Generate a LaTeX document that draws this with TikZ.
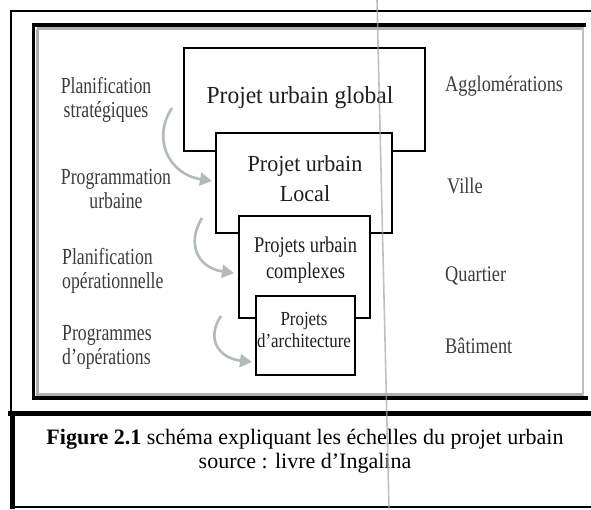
\documentclass[tikz,border=0pt]{standalone}
\usepackage{fontspec}
\setmainfont{Liberation Serif}
\newfontfamily\widefont[FakeStretch=0.96]{Liberation Serif}
\newfontfamily\condfont[FakeStretch=0.77]{Liberation Serif}
\newfontfamily\condfontb[FakeStretch=0.82]{Liberation Serif}
\newfontfamily\condfontc[FakeStretch=0.85]{Liberation Serif}
\usetikzlibrary{arrows.meta}
\definecolor{arrowgray}{RGB}{178,187,187}
\definecolor{bandgray}{RGB}{175,175,175}
\definecolor{labelgray}{RGB}{60,60,60}
\begin{document}
\begin{tikzpicture}[x=1pt,y=-1pt,
  box/.style={draw=black,line width=2.2pt,fill=white,inner sep=0pt,outer sep=0pt},
  boxtext/.style={text=black!88,inner sep=0pt,anchor=base,align=center},
  leftlbl/.style={font=\condfont\fontsize{23}{24}\selectfont,text=labelgray,inner sep=0pt},
  scalelbl/.style={font=\condfontb\fontsize{22.3}{24}\selectfont,text=labelgray,inner sep=0pt,anchor=base west},
  flow/.style={draw=arrowgray,line width=2.6pt,-{Triangle[length=12pt,width=13pt]}},
]
\useasboundingbox (0,0) rectangle (591,509);
\fill[white] (0,0) rectangle (591,509);

% outer page frame
\draw[line width=1.5pt] (591,11) -- (11,11) -- (11,413);
% diagram frame
\draw[draw=bandgray,line width=3pt] (37,28.5) -- (37,394.5) -- (583,394.5);
\draw[draw=bandgray,line width=3pt] (37,28.5) -- (583,28.5);
\draw[draw=bandgray!80,line width=1.2pt] (583,27) -- (583,396);
\draw[line width=3.5pt] (586,25) -- (33.5,25) -- (33.5,398) -- (588,398);

% nested boxes
\node[box,minimum width=241pt,minimum height=103pt] (b1) at (304.5,99.5) {};
\node[box,minimum width=176pt,minimum height=100pt] (b2) at (304,183) {};
\node[box,minimum width=131pt,minimum height=102pt] (b3) at (304.5,267) {};
\node[box,minimum width=99pt,minimum height=79pt] (b4) at (305.5,335.5) {};

% (anchor=base of a two-line node = baseline of its last line)
\node[boxtext,font=\widefont\fontsize{24.5}{28}\selectfont] (t1) at (300,103) {Projet urbain global};
\node[boxtext,font=\widefont\fontsize{23}{29.5}\selectfont] (t2) at (305,201) {Projet urbain\\Local};
\node[boxtext,font=\condfontb\fontsize{22.5}{26}\selectfont] (t3) at (305.5,278) {Projets urbain\\complexes};
\node[boxtext,font=\condfontc\fontsize{19.9}{22}\selectfont] (t4) at (304,347) {Projets\\d’architecture};

% left labels
\node[leftlbl,align=center,anchor=base] (l1) at (106,117) {Planification\\stratégiques};
\node[leftlbl,align=center,anchor=base] (l2) at (116,208) {Programmation\\urbaine};
\node[leftlbl,align=left,anchor=base west] (l3) at (62,288) {Planification\\opérationnelle};
\node[leftlbl,align=left,anchor=base west] (l4) at (62,364) {Programmes\\d’opérations};

% right labels
\node[scalelbl] (r1) at (445,91) {Agglomérations};
\node[scalelbl] (r2) at (447,193) {Ville};
\node[scalelbl] (r3) at (445,281) {Quartier};
\node[scalelbl] (r4) at (445,353) {Bâtiment};

% gray arrows
\coordinate (a1s) at (172,108);
\coordinate (a1e) at (212,181);
\coordinate (a2s) at (202,218);
\coordinate (a2e) at (234,273);
\coordinate (a3s) at (221,316);
\coordinate (a3e) at (252,362);
\draw[flow] (a1s) .. controls (152,138) and (168,174) .. (a1e);
\draw[flow] (a2s) .. controls (186,244) and (198,268) .. (a2e);
\draw[flow] (a3s) .. controls (206,338) and (218,358) .. (a3e);

% caption box
\draw[line width=5pt] (8,413.5) -- (591,413.5);
\draw[line width=5pt] (12.5,411) -- (12.5,509);
\draw[line width=1.2pt] (12,507) -- (591,507);
\node[inner sep=0pt,anchor=base,align=center,font=\fontsize{22}{23.5}\selectfont] (cap) at (305,468)
  {\textbf{Figure 2.1} schéma expliquant les échelles du projet urbain\\source : livre d’Ingalina};

% scan fold line
\draw[draw=black!35,line width=1.6pt,opacity=0.7] (377,0) -- (389,509);
\end{tikzpicture}
\end{document}
